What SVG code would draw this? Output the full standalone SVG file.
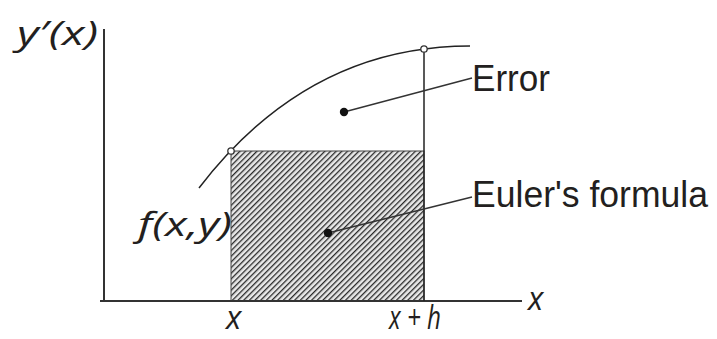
<svg xmlns="http://www.w3.org/2000/svg" width="717" height="339" viewBox="0 0 717 339">
<style>
.ax{stroke:#333;stroke-width:2;fill:none}
.ln{stroke:#222;stroke-width:1.5;fill:none}
.ld{stroke:#333;stroke-width:1.4;fill:none}
.lab{font-family:"Liberation Sans",Arial,sans-serif;font-size:36px;fill:#231f20}
.math{font-family:"Open Sans","Noto Sans",sans-serif;font-style:italic;fill:#231f20}
.pt{fill:#fff;stroke:#333;stroke-width:1.3}
.dot{fill:#111}
</style>
<defs>
<pattern id="hatch" width="4" height="4" patternUnits="userSpaceOnUse" patternTransform="rotate(45)">
<rect width="4" height="4" fill="#e8e8e8"/>
<line x1="0" y1="0" x2="0" y2="4" stroke="#2a2a2a" stroke-width="2.6"/>
</pattern>
</defs>
<g id="shaded-area">
<rect x="231" y="151" width="193" height="150" fill="url(#hatch)" stroke="#444" stroke-width="1"/>
</g>
<g id="axes">
<line class="ax" x1="104" y1="29" x2="104" y2="301"/>
<line class="ax" x1="100" y1="301" x2="522" y2="301"/>
<line class="ln" x1="424" y1="49" x2="424" y2="301"/>
</g>
<g id="curve">
<path class="ln" d="M199,188 Q308,46 470,46" stroke-width="1.6"/>
<circle class="pt" cx="231" cy="151" r="3.2"/>
<circle class="pt" cx="424" cy="49" r="3.2"/>
</g>
<g id="connectors">
<line class="ld" x1="344" y1="112" x2="472" y2="78"/>
<line class="ld" x1="328" y1="233" x2="472" y2="197"/>
<circle class="dot" cx="344" cy="112" r="4.2"/>
<circle class="dot" cx="328" cy="233" r="4.2"/>
</g>
<g id="labels">
<text class="lab" x="472" y="91" textLength="78" lengthAdjust="spacingAndGlyphs">Error</text>
<text class="lab" x="472" y="207" textLength="236" lengthAdjust="spacingAndGlyphs">Euler's formula</text>
<text class="math" x="17" y="45" font-size="33" textLength="81" lengthAdjust="spacingAndGlyphs">y′(x)</text>
<text class="math" x="138" y="236" font-size="33" textLength="94" lengthAdjust="spacingAndGlyphs">f(x,y)</text>
<text class="math" x="226" y="329" font-size="32">x</text>
<text class="math" x="389" y="329" font-size="32" textLength="52" lengthAdjust="spacingAndGlyphs">x + h</text>
<text class="math" x="528" y="310" font-size="32">x</text>
</g>
</svg>
